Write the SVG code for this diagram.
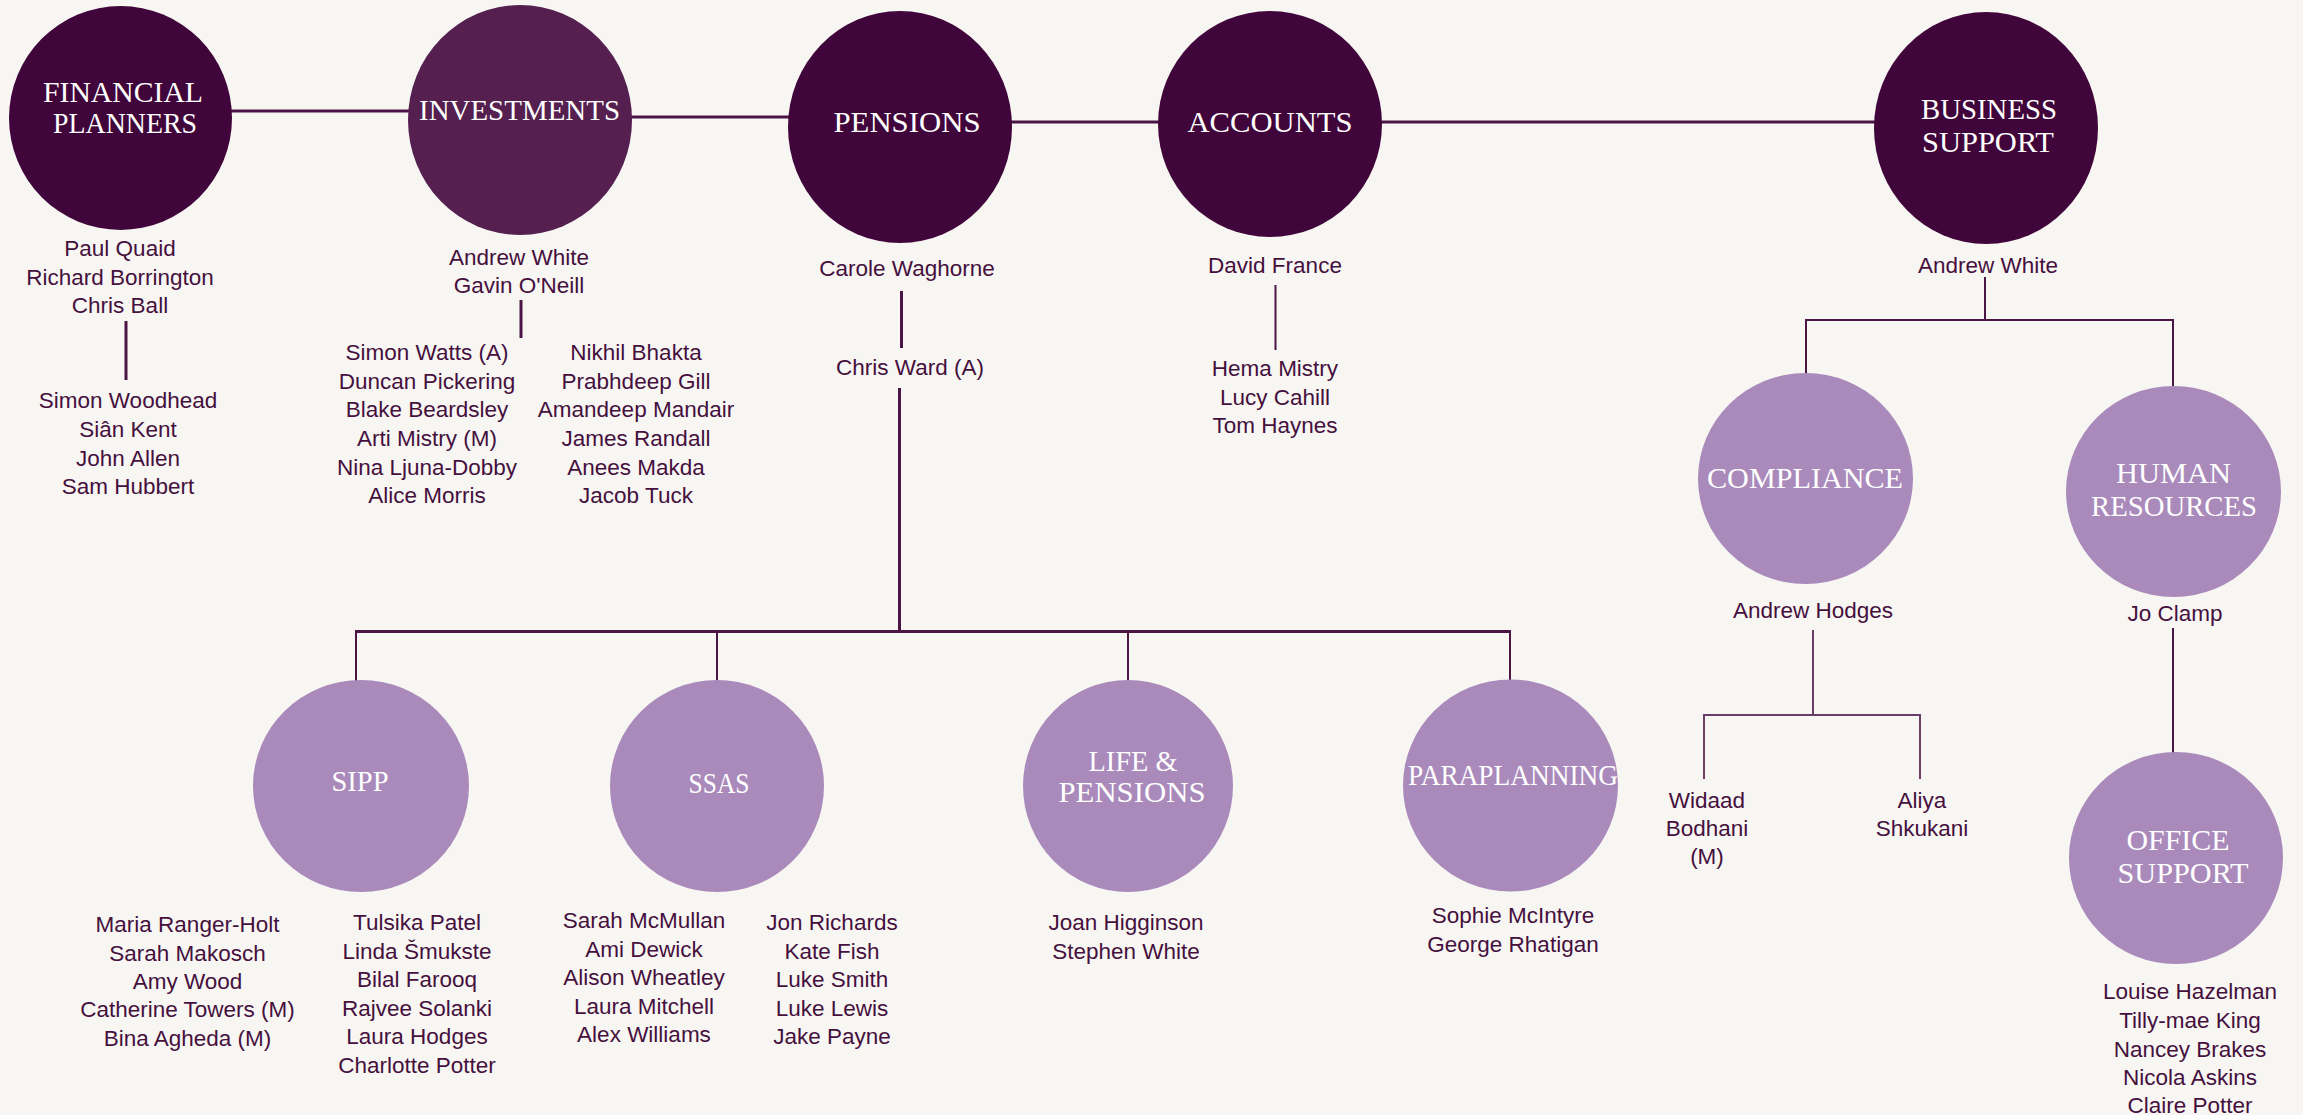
<svg xmlns="http://www.w3.org/2000/svg" width="2303" height="1115" viewBox="0 0 2303 1115">
<style>
.bg{fill:#f8f6f2}
.dark{fill:#40053a}
.mid{fill:#55204f}
.light{fill:#a98abb}
.t{font-family:"Liberation Serif","Times New Roman",serif;font-size:29px;fill:#ffffff;text-anchor:middle}
.s{font-family:"Liberation Sans",Arial,sans-serif;font-size:22.5px;fill:#45103e;text-anchor:middle}
.c{stroke:#4a1544;stroke-width:3;fill:none}
.c2{stroke:#4a1544;stroke-width:2;fill:none}
.c3{stroke:#6b3d66;stroke-width:2;fill:none}
</style>
<rect class="bg" x="0" y="0" width="2303" height="1115"/>
<g id="connectors">
<line class="c" x1="230" y1="111" x2="410" y2="111"/>
<line class="c" x1="630" y1="117" x2="790" y2="117"/>
<line class="c" x1="1010" y1="122" x2="1160" y2="122"/>
<line class="c" x1="1380" y1="122" x2="1876" y2="122"/>
<line class="c" x1="126" y1="321" x2="126" y2="380"/>
<line class="c" x1="521" y1="300" x2="521" y2="338"/>
<line class="c" x1="901.5" y1="291" x2="901.5" y2="348"/>
<line class="c" x1="899.5" y1="388" x2="899.5" y2="631"/>
<line class="c" x1="355" y1="631.5" x2="1511" y2="631.5"/>
<line class="c2" x1="356" y1="631" x2="356" y2="681"/>
<line class="c2" x1="717" y1="631" x2="717" y2="681"/>
<line class="c2" x1="1128" y1="631" x2="1128" y2="681"/>
<line class="c2" x1="1510" y1="631" x2="1510" y2="681"/>
<line class="c2" x1="1275.5" y1="285" x2="1275.5" y2="350"/>
<line class="c2" x1="1985" y1="277" x2="1985" y2="320"/>
<polyline class="c2" points="1806,374 1806,320 2173,320 2173,388"/>
<line class="c3" x1="1813" y1="630" x2="1813" y2="715"/>
<polyline class="c3" points="1704,779 1704,715 1920,715 1920,779"/>
<line class="c2" x1="2173" y1="628" x2="2173" y2="753"/>
</g>
<g id="financial-planners">
<ellipse class="dark" cx="120.5" cy="118" rx="111.5" ry="112"/>
<text class="t" x="123" y="102" textLength="160" lengthAdjust="spacingAndGlyphs">FINANCIAL</text>
<text class="t" x="125" y="133" textLength="144" lengthAdjust="spacingAndGlyphs">PLANNERS</text>
<text class="s" x="120" y="256">Paul Quaid</text>
<text class="s" x="120" y="284.5">Richard Borrington</text>
<text class="s" x="120" y="313">Chris Ball</text>
<text class="s" x="128" y="408">Simon Woodhead</text>
<text class="s" x="128" y="437">Siân Kent</text>
<text class="s" x="128" y="466">John Allen</text>
<text class="s" x="128" y="494">Sam Hubbert</text>
</g>
<g id="investments">
<ellipse class="mid" cx="520" cy="120" rx="112" ry="115"/>
<text class="t" x="519.5" y="120" textLength="201" lengthAdjust="spacingAndGlyphs">INVESTMENTS</text>
<text class="s" x="519" y="265">Andrew White</text>
<text class="s" x="519" y="293">Gavin O'Neill</text>
<text class="s" x="427" y="360">Simon Watts (A)</text>
<text class="s" x="427" y="388.5">Duncan Pickering</text>
<text class="s" x="427" y="417">Blake Beardsley</text>
<text class="s" x="427" y="446">Arti Mistry (M)</text>
<text class="s" x="427" y="474.5">Nina Ljuna-Dobby</text>
<text class="s" x="427" y="503">Alice Morris</text>
<text class="s" x="636" y="360">Nikhil Bhakta</text>
<text class="s" x="636" y="388.5">Prabhdeep Gill</text>
<text class="s" x="636" y="417">Amandeep Mandair</text>
<text class="s" x="636" y="446">James Randall</text>
<text class="s" x="636" y="474.5">Anees Makda</text>
<text class="s" x="636" y="503">Jacob Tuck</text>
</g>
<g id="pensions">
<ellipse class="dark" cx="900" cy="127" rx="112" ry="116"/>
<text class="t" x="907" y="132" textLength="147" lengthAdjust="spacingAndGlyphs">PENSIONS</text>
<text class="s" x="907" y="276">Carole Waghorne</text>
<text class="s" x="910" y="375">Chris Ward (A)</text>
</g>
<g id="accounts">
<ellipse class="dark" cx="1270" cy="124" rx="112" ry="113"/>
<text class="t" x="1270" y="132" textLength="165" lengthAdjust="spacingAndGlyphs">ACCOUNTS</text>
<text class="s" x="1275" y="273">David France</text>
<text class="s" x="1275" y="376">Hema Mistry</text>
<text class="s" x="1275" y="405">Lucy Cahill</text>
<text class="s" x="1275" y="433">Tom Haynes</text>
</g>
<g id="business-support">
<ellipse class="dark" cx="1986" cy="128" rx="112" ry="116"/>
<text class="t" x="1989" y="119" textLength="136" lengthAdjust="spacingAndGlyphs">BUSINESS</text>
<text class="t" x="1988" y="152" textLength="132" lengthAdjust="spacingAndGlyphs">SUPPORT</text>
<text class="s" x="1988" y="273">Andrew White</text>
</g>
<g id="compliance">
<ellipse class="light" cx="1805.5" cy="478.5" rx="107.5" ry="105.5"/>
<text class="t" x="1805" y="488" textLength="196" lengthAdjust="spacingAndGlyphs">COMPLIANCE</text>
<text class="s" x="1813" y="618">Andrew Hodges</text>
<text class="s" x="1707" y="808">Widaad</text>
<text class="s" x="1707" y="836">Bodhani</text>
<text class="s" x="1707" y="864">(M)</text>
<text class="s" x="1922" y="808">Aliya</text>
<text class="s" x="1922" y="836">Shkukani</text>
</g>
<g id="human-resources">
<ellipse class="light" cx="2173.5" cy="491.5" rx="107.5" ry="105.5"/>
<text class="t" x="2173.5" y="483" textLength="115" lengthAdjust="spacingAndGlyphs">HUMAN</text>
<text class="t" x="2174" y="516" textLength="166" lengthAdjust="spacingAndGlyphs">RESOURCES</text>
<text class="s" x="2175" y="621">Jo Clamp</text>
</g>
<g id="office-support">
<ellipse class="light" cx="2176" cy="858" rx="107" ry="106"/>
<text class="t" x="2178" y="850" textLength="103" lengthAdjust="spacingAndGlyphs">OFFICE</text>
<text class="t" x="2183" y="883" textLength="131" lengthAdjust="spacingAndGlyphs">SUPPORT</text>
<text class="s" x="2190" y="999">Louise Hazelman</text>
<text class="s" x="2190" y="1028">Tilly-mae King</text>
<text class="s" x="2190" y="1057">Nancey Brakes</text>
<text class="s" x="2190" y="1085">Nicola Askins</text>
<text class="s" x="2190" y="1113">Claire Potter</text>
</g>
<g id="sipp">
<ellipse class="light" cx="361" cy="786" rx="108" ry="106"/>
<text class="t" x="360" y="791" textLength="57" lengthAdjust="spacingAndGlyphs">SIPP</text>
<text class="s" x="187.5" y="932">Maria Ranger-Holt</text>
<text class="s" x="187.5" y="960.5">Sarah Makosch</text>
<text class="s" x="187.5" y="989">Amy Wood</text>
<text class="s" x="187.5" y="1017">Catherine Towers (M)</text>
<text class="s" x="187.5" y="1045.5">Bina Agheda (M)</text>
<text class="s" x="417" y="930">Tulsika Patel</text>
<text class="s" x="417" y="958.5">Linda Šmukste</text>
<text class="s" x="417" y="987">Bilal Farooq</text>
<text class="s" x="417" y="1015.5">Rajvee Solanki</text>
<text class="s" x="417" y="1044">Laura Hodges</text>
<text class="s" x="417" y="1072.5">Charlotte Potter</text>
</g>
<g id="ssas">
<ellipse class="light" cx="717" cy="786" rx="107" ry="106"/>
<text class="t" x="719" y="793" textLength="61" lengthAdjust="spacingAndGlyphs">SSAS</text>
<text class="s" x="644" y="928">Sarah McMullan</text>
<text class="s" x="644" y="956.5">Ami Dewick</text>
<text class="s" x="644" y="985">Alison Wheatley</text>
<text class="s" x="644" y="1013.5">Laura Mitchell</text>
<text class="s" x="644" y="1042">Alex Williams</text>
<text class="s" x="832" y="930">Jon Richards</text>
<text class="s" x="832" y="958.5">Kate Fish</text>
<text class="s" x="832" y="987">Luke Smith</text>
<text class="s" x="832" y="1015.5">Luke Lewis</text>
<text class="s" x="832" y="1044">Jake Payne</text>
</g>
<g id="life-pensions">
<ellipse class="light" cx="1128" cy="786" rx="105" ry="106"/>
<text class="t" x="1133" y="771" textLength="89" lengthAdjust="spacingAndGlyphs">LIFE &amp;</text>
<text class="t" x="1132" y="802" textLength="147" lengthAdjust="spacingAndGlyphs">PENSIONS</text>
<text class="s" x="1126" y="930">Joan Higginson</text>
<text class="s" x="1126" y="959">Stephen White</text>
</g>
<g id="paraplanning">
<ellipse class="light" cx="1510.5" cy="785.5" rx="107.5" ry="106"/>
<text class="t" x="1513" y="785" textLength="210" lengthAdjust="spacingAndGlyphs">PARAPLANNING</text>
<text class="s" x="1513" y="923">Sophie McIntyre</text>
<text class="s" x="1513" y="952">George Rhatigan</text>
</g>
</svg>
